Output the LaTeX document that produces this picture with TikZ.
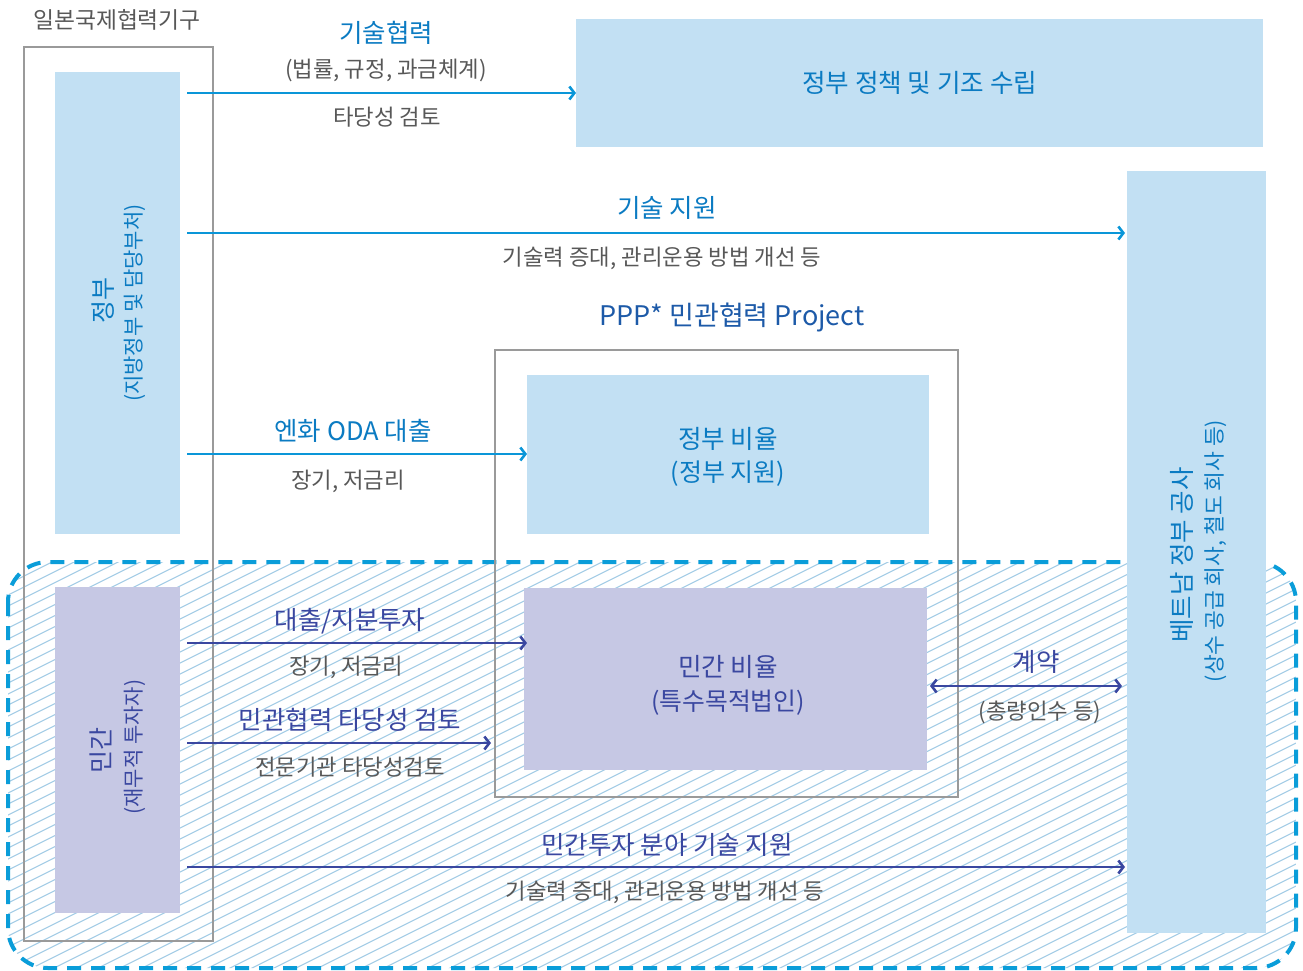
\documentclass[tikz,border=0pt]{standalone}
\usepackage{fontspec}
\setmainfont{Noto Sans CJK KR}
\usetikzlibrary{arrows.meta}
\definecolor{lbfill}{HTML}{C2E0F3}
\definecolor{pfill}{HTML}{C6C8E4}
\definecolor{barrow}{HTML}{0A96D8}
\definecolor{btext}{HTML}{0B7BC2}
\definecolor{ptext}{HTML}{3A47A0}
\definecolor{ppptext}{HTML}{1D5AA8}
\definecolor{gtext}{HTML}{585858}
\definecolor{gframe}{HTML}{9A9A9A}
\definecolor{hatchc}{HTML}{A5CDE6}
\definecolor{dashc}{HTML}{0A9DD9}
\tikzset{
  lbbox/.style={fill=lbfill, draw=none, inner sep=0pt, anchor=north west},
  pbox/.style={fill=pfill, draw=none, inner sep=0pt, anchor=north west},
  frame/.style={draw=gframe, line width=2pt, fill=none, inner sep=0pt, anchor=north west},
  barr/.style={draw=barrow, line width=2.6pt, -{Straight Barb[length=5pt,width=13pt]}},
  parr/.style={draw=ptext, line width=2.6pt, -{Straight Barb[length=5pt,width=13pt]}},
  pdarr/.style={draw=ptext, line width=2.6pt, {Straight Barb[length=5pt,width=13pt]}-{Straight Barb[length=5pt,width=13pt]}},
  btitle/.style={text=btext, font=\fontsize{25.5}{29}\selectfont, inner sep=0pt},
  ptitle/.style={text=ptext, font=\fontsize{25.5}{29}\selectfont, inner sep=0pt},
  gsub/.style={text=gtext, font=\fontsize{22.3}{26}\selectfont, inner sep=0pt},
  hatchline/.style={draw=hatchc, line width=1.1pt},
  dashborder/.style={draw=dashc, line width=4pt, dash pattern=on 14pt off 10pt, rounded corners=40pt},
}
\begin{document}
\begin{tikzpicture}[x=1pt,y=-1pt]
\useasboundingbox (0,0) rectangle (1303,970);

% hatched private-sector zone
\begin{scope}
  \clip[rounded corners=40pt] (8,562) rectangle (1296,968);
  \foreach \k in {0,...,100} \draw[hatchline] (8,{562+\k*11}) -- ++(1288,-644);
\end{scope}
\draw[dashborder] (8,562) rectangle (1296,968);

% boxes
\node[lbbox, minimum width=125pt, minimum height=462pt] (gov) at (55,72) {};
\node[pbox, minimum width=125pt, minimum height=326pt] (priv) at (55,587) {};
\node[lbbox, minimum width=687pt, minimum height=128pt, text=btext, font=\fontsize{25.6}{29}\selectfont] (policy) at (576,19) {정부 정책 및 기조 수립};
\node[lbbox, minimum width=139pt, minimum height=762pt] (viet) at (1127,171) {};
\node[lbbox, minimum width=402pt, minimum height=159pt] (govratio) at (527,375) {};
\node[pbox, minimum width=403pt, minimum height=182pt] (privratio) at (524,588) {};

% frames
\node[frame, minimum width=189pt, minimum height=894pt] (jica) at (23,46) {};
\node[frame, minimum width=463pt, minimum height=447pt] (ppp) at (494,349) {};

% frame titles
\node[text=gtext, font=\fontsize{22.8}{26}\selectfont, inner sep=0pt] (jicat) at (117,20) {일본국제협력기구};
\node[text=ppptext, font=\fontsize{27}{31}\selectfont, inner sep=0pt] (pppt) at (732,317) {PPP* 민관협력 Project};

% box texts
\node[text=btext, font=\fontsize{25.6}{29}\selectfont, inner sep=0pt] (grt1) at (728,439) {정부 비율};
\node[text=btext, font=\fontsize{25}{29}\selectfont, inner sep=0pt] (grt2) at (728,474) {(정부 지원)};
\node[text=ptext, font=\fontsize{25.6}{29}\selectfont, inner sep=0pt] (prt1) at (728,667) {민간 비율};
\node[text=ptext, font=\fontsize{24.8}{29}\selectfont, inner sep=0pt] (prt2) at (728,703) {(특수목적법인)};

\node[text=btext, font=\fontsize{25}{29}\selectfont, inner sep=0pt, rotate=90] (govt1) at (103,300) {정부};
\node[text=btext, font=\fontsize{21}{25}\selectfont, inner sep=0pt, rotate=90] (govt2) at (135,303) {(지방정부 및 담당부처)};
\node[text=ptext, font=\fontsize{25}{29}\selectfont, inner sep=0pt, rotate=90] (privt1) at (101,750) {민간};
\node[text=ptext, font=\fontsize{21}{25}\selectfont, inner sep=0pt, rotate=90] (privt2) at (135,747) {(재무적 투자자)};
\node[text=btext, font=\fontsize{25.5}{29}\selectfont, inner sep=0pt, rotate=90] (viett1) at (1182,555) {베트남 정부 공사};
\node[text=btext, font=\fontsize{21.5}{25}\selectfont, inner sep=0pt, rotate=90] (viett2) at (1216,551) {(상수 공급 회사, 철도 회사 등)};

% arrow start points
\coordinate (s1) at (187,93);
\coordinate (s2) at (187,233);
\coordinate (s3) at (187,454);
\coordinate (s4) at (187,643);
\coordinate (s5) at (187,743);
\coordinate (s6) at (187,867);
\coordinate (e5) at (491,743);
\coordinate (s7) at (930,686);
\coordinate (e7) at (1122,686);

\draw[barr] (s1) -- (policy.west |- s1);
\draw[barr] (s2) -- ([xshift=-2pt]viet.west |- s2);
\draw[barr] (s3) -- (govratio.west |- s3);
\draw[parr] (s4) -- ([xshift=3pt]privratio.west |- s4);
\draw[parr] (s5) -- (e5);
\draw[parr] (s6) -- ([xshift=-2pt]viet.west |- s6);
\draw[pdarr] (s7) -- (e7);

% arrow labels
\node[btitle] (l1a) at (386,33) {기술협력};
\node[gsub] (l1b) at (386,70) {(법률, 규정, 과금체계)};
\node[gsub] (l1c) at (387,117) {타당성 검토};
\node[btitle] (l2a) at (667,208) {기술 지원};
\node[gsub] (l2b) at (662,258) {기술력 증대, 관리운용 방법 개선 등};
\node[btitle] (l3a) at (353,431) {엔화 ODA 대출};
\node[gsub] (l3b) at (348,481) {장기, 저금리};
\node[ptitle] (l4a) at (350,621) {대출/지분투자};
\node[gsub] (l4b) at (346,667) {장기, 저금리};
\node[ptitle] (l5a) at (350,720) {민관협력 타당성 검토};
\node[gsub] (l5b) at (350,767) {전문기관 타당성검토};
\node[ptitle] (l6a) at (667,845) {민간투자 분야 기술 지원};
\node[gsub] (l6b) at (665,892) {기술력 증대, 관리운용 방법 개선 등};
\node[ptitle] (l7a) at (1036,662) {계약};
\node[gsub] (l7b) at (1040,712) {(총량인수 등)};
\end{tikzpicture}
\end{document}
